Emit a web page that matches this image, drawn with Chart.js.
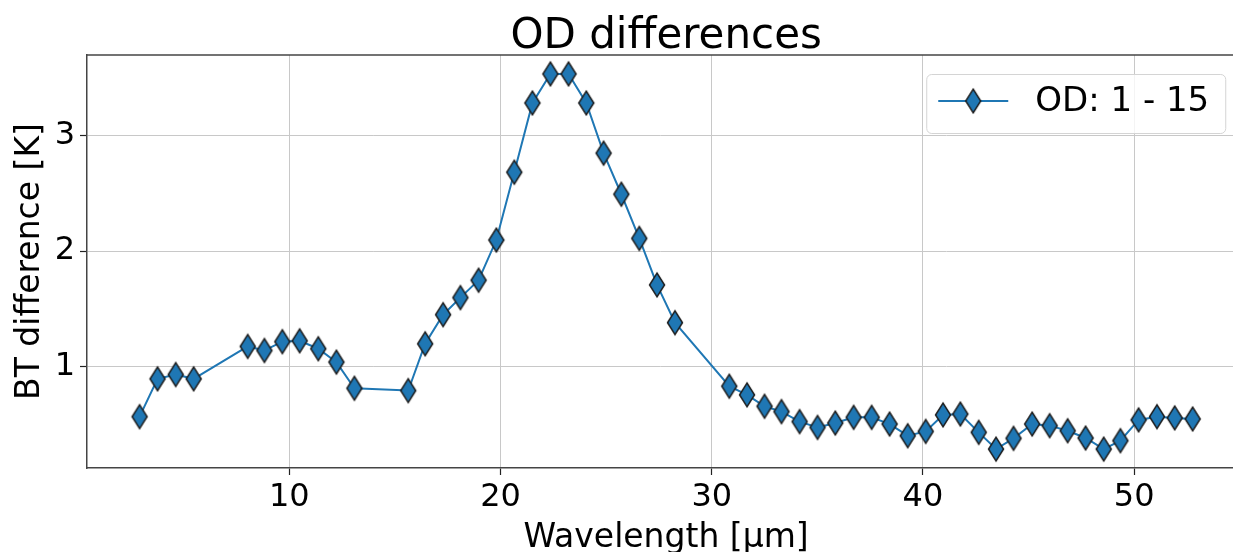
<!DOCTYPE html>
<html lang="en">
<head>
    <meta charset="UTF-8">
    <title>OD differences</title>
    <script src="https://cdn.jsdelivr.net/npm/chart.js"></script>
    <style>
        html, body { margin: 0; padding: 0; background: #fff; overflow: hidden; }
        #wrap { width: 1233px; height: 552px; }
    </style>
</head>
<body>
    <div id="wrap"><canvas id="chart"></canvas></div>

    <script>
    // wavelength channels and brightness temperature difference between OD 1 and OD 15
    const wavelength = [2.91, 3.76, 4.62, 5.47, 8.03, 8.82, 9.67, 10.49, 11.37, 12.23, 13.08,
        15.63, 16.43, 17.28, 18.10, 18.96, 19.80, 20.65, 21.51, 22.36, 23.22, 24.06, 24.88,
        25.72, 26.57, 27.41, 28.26, 30.83, 31.67, 32.50, 33.30, 34.16, 35.01, 35.85, 36.72,
        37.57, 38.42, 39.28, 40.13, 40.95, 41.77, 42.64, 43.46, 44.29, 45.17, 46.00, 46.85,
        47.70, 48.56, 49.35, 50.21, 51.08, 51.92, 52.77];
    const btDiff = [0.565, 0.893, 0.930, 0.893, 1.174, 1.139, 1.215, 1.223, 1.154, 1.038, 0.811,
        0.791, 1.197, 1.449, 1.597, 1.748, 2.096, 2.684, 3.284, 3.536, 3.536, 3.284, 2.849,
        2.493, 2.110, 1.707, 1.380, 0.829, 0.754, 0.655, 0.609, 0.522, 0.472, 0.510, 0.559,
        0.559, 0.501, 0.400, 0.437, 0.580, 0.588, 0.429, 0.284, 0.377, 0.501, 0.487, 0.443,
        0.380, 0.284, 0.357, 0.537, 0.565, 0.554, 0.545];
    const xTicks = [10, 20, 30, 40, 50];
    const yTicks = [1, 2, 3];
    const seriesLabel = 'OD: 1 - 15';

    const FONT = "'DejaVu Sans', sans-serif";
    const BLUE = '#1f77b4';
    // full x extent of the axes; the right part runs past the canvas edge
    const X_MIN = 0.42, X_END = 55.26, X_VISIBLE = 54.68;

    // thin diamond marker, drawn once and reused for every point
    function makeDiamond() {
        const c = document.createElement('canvas');
        c.width = 20; c.height = 28;
        const g = c.getContext('2d');
        g.beginPath();
        g.moveTo(10, 2.2);
        g.lineTo(17.5, 14);
        g.lineTo(10, 25.8);
        g.lineTo(2.5, 14);
        g.closePath();
        g.fillStyle = BLUE;
        g.fill();
        g.lineWidth = 1.5;
        g.strokeStyle = '#1c1c1c';
        g.lineJoin = 'miter';
        g.stroke();
        return c;
    }
    const diamond = makeDiamond();

    // top spine, title, x label and the boxed legend
    const framePlugin = {
        id: 'frame',
        afterDraw(chart) {
            const ctx = chart.ctx;
            const a = chart.chartArea;
            const xs = chart.scales.x;
            const axesRight = xs.getPixelForValue(X_END);
            const axesMid = (a.left + axesRight) / 2;
            ctx.save();
            ctx.strokeStyle = '#444';
            ctx.lineWidth = 1.5;
            ctx.beginPath();
            ctx.moveTo(a.left, a.top);
            ctx.lineTo(a.right, a.top);
            ctx.stroke();

            ctx.fillStyle = '#000';
            ctx.textAlign = 'center';
            ctx.textBaseline = 'alphabetic';
            ctx.font = '42px ' + FONT;
            ctx.fillText('OD differences', axesMid, a.top - 7);
            ctx.font = '33px ' + FONT;
            ctx.fillText('Wavelength [μm]', axesMid, chart.height - 5);

            const w = 299, h = 59;
            const bx = axesRight - 20 - w, by = a.top + 19;
            ctx.beginPath();
            ctx.roundRect(bx + 0.5, by + 0.5, w, h, 5);
            ctx.fillStyle = 'rgba(255,255,255,0.8)';
            ctx.fill();
            ctx.strokeStyle = '#d4d4d4';
            ctx.lineWidth = 1;
            ctx.stroke();

            const cy = by + 27;
            ctx.strokeStyle = BLUE;
            ctx.lineWidth = 2;
            ctx.beginPath();
            ctx.moveTo(bx + 12, cy);
            ctx.lineTo(bx + 82, cy);
            ctx.stroke();
            ctx.drawImage(diamond, bx + 47 - 10, cy - 14);

            ctx.fillStyle = '#000';
            ctx.font = '34px ' + FONT;
            ctx.textBaseline = 'middle';
            ctx.textAlign = 'left';
            ctx.fillText(chart.data.datasets[0].label, bx + 109, cy + 1);
            ctx.restore();
        }
    };

    new Chart(document.getElementById('chart'), {
        type: 'line',
        data: {
            datasets: [{
                label: seriesLabel,
                data: wavelength.map((w, i) => ({ x: w, y: btDiff[i] })),
                borderColor: BLUE,
                borderWidth: 2,
                pointStyle: diamond,
                pointRadius: 10,
                tension: 0,
                fill: false
            }]
        },
        options: {
            responsive: true,
            maintainAspectRatio: false,
            animation: false,
            devicePixelRatio: 1,
            layout: { padding: { top: 55 }, autoPadding: false },
            plugins: {
                legend: { display: false },
                tooltip: { enabled: false },
                title: { display: false }
            },
            scales: {
                x: {
                    type: 'linear',
                    min: X_MIN,
                    max: X_VISIBLE,
                    afterFit(scale) {
                        scale.height = 84;
                        scale.paddingLeft = 0;
                        scale.paddingRight = 0;
                    },
                    afterBuildTicks(scale) { scale.ticks = xTicks.map(v => ({ value: v })); },
                    grid: { color: '#c8c8c8', lineWidth: 1, tickColor: '#222', tickLength: 7, tickWidth: 1.2 },
                    border: { color: '#444', width: 1.5 },
                    ticks: { color: '#000', padding: 3, maxRotation: 0, font: { family: FONT, size: 32 } }
                },
                y: {
                    type: 'linear',
                    min: 0.12,
                    max: 3.70,
                    afterFit(scale) {
                        scale.width = 87;
                        scale.paddingTop = 0;
                        scale.paddingBottom = 0;
                    },
                    afterBuildTicks(scale) { scale.ticks = yTicks.map(v => ({ value: v })); },
                    grid: { color: '#c8c8c8', lineWidth: 1, tickColor: '#222', tickLength: 7, tickWidth: 1.2 },
                    border: { color: '#444', width: 1.5 },
                    ticks: { color: '#000', padding: 5, font: { family: FONT, size: 32 } },
                    title: {
                        display: true,
                        text: 'BT difference [K]',
                        color: '#000',
                        font: { family: FONT, size: 33, lineHeight: 1 },
                        padding: { top: 14, bottom: 0 }
                    }
                }
            }
        },
        plugins: [framePlugin]
    });
    </script>
</body>
</html>
